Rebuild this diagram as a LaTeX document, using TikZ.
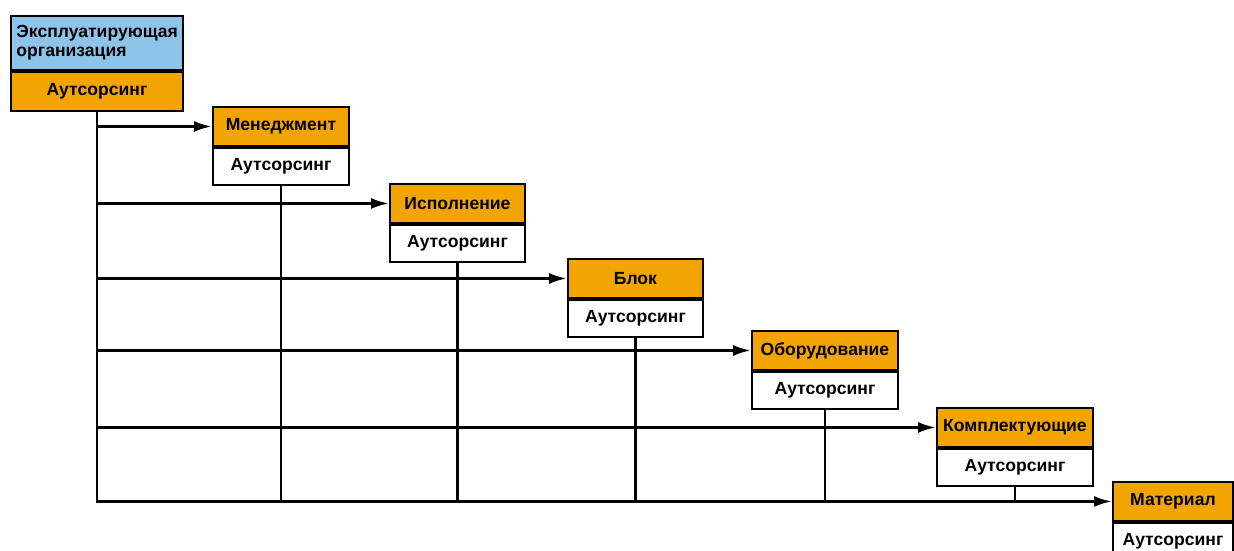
\documentclass[tikz,border=0pt]{standalone}
\usepackage{fontspec}
\setmainfont{Liberation Sans}
\usetikzlibrary{positioning,arrows.meta}
\definecolor{headorange}{RGB}{242,165,0}
\definecolor{orgblue}{RGB}{142,196,232}
\tikzset{
	head/.style={draw,fill=headorange,line width=1.1pt,minimum height=0.78cm,inner sep=0pt,font=\bfseries},
	outs/.style={draw,fill=white,line width=1.1pt,minimum height=0.74cm,inner sep=0pt,font=\bfseries},
	wire/.style={line width=1.6pt},
	link/.style={line width=1.6pt,-{Latex[length=0.36cm,width=0.22cm]}}
}
\begin{document}
\begin{tikzpicture}[x=0.02cm,y=-0.02cm]
		\useasboundingbox(0,0)rectangle(1234,551);
		\node[draw,fill=orgblue,line width=1.1pt,minimum width=3.44cm,minimum height=1.08cm,inner sep=0pt,anchor=north west,font=\bfseries,align=left,text width=3.22cm](org)at(10,15){Эксплуатирующая\\[-1pt]организация};
		\node[head,minimum width=3.44cm,below=0pt of org](orgA){Аутсорсинг};
		\node[head,minimum width=2.72cm,anchor=north west](men)at(212,106){Менеджмент};
		\node[outs,minimum width=2.72cm,below=0pt of men](menA){Аутсорсинг};
		\node[head,minimum width=2.7cm,anchor=north west](isp)at(389,183){Исполнение};
		\node[outs,minimum width=2.7cm,below=0pt of isp](ispA){Аутсорсинг};
		\node[head,minimum width=2.7cm,anchor=north west](blk)at(567,258){Блок};
		\node[outs,minimum width=2.7cm,below=0pt of blk](blkA){Аутсорсинг};
		\node[head,minimum width=2.92cm,anchor=north west](obr)at(751,330){Оборудование};
		\node[outs,minimum width=2.92cm,below=0pt of obr](obrA){Аутсорсинг};
		\node[head,minimum width=3.12cm,anchor=north west](kmp)at(936,407){Комплектующие};
		\node[outs,minimum width=3.12cm,below=0pt of kmp](kmpA){Аутсорсинг};
		\node[head,minimum width=2.4cm,anchor=north west](mat)at(1112,481){Материал};
		\node[outs,minimum width=2.4cm,below=0pt of mat](matA){Аутсорсинг};
		% trunk and feeds
		\draw[link](orgA.south)|-(mat.west);
		\draw[link](orgA.south|-men.west)--(men.west);
		\draw[link](orgA.south|-isp.west)--(isp.west);
		\draw[link](orgA.south|-blk.west)--(blk.west);
		\draw[link](orgA.south|-obr.west)--(obr.west);
		\draw[link](orgA.south|-kmp.west)--(kmp.west);
		\draw[wire](menA.south)--(menA.south|-mat.west)
			(ispA.south)--(ispA.south|-mat.west)
			(blkA.south)--(blkA.south|-mat.west)
			(obrA.south)--(obrA.south|-mat.west)
			(kmpA.south)--(kmpA.south|-mat.west);
	\end{tikzpicture}
\end{document}
